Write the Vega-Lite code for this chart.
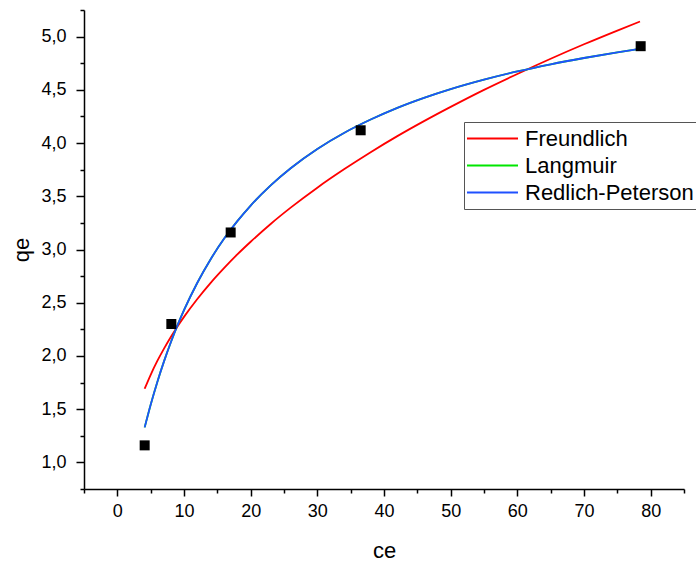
{
  "$schema": "https://vega.github.io/schema/vega-lite/v6.json",
  "width": 600,
  "height": 479,
  "autosize": {"type": "none"},
  "padding": {"left": 84, "top": 10, "right": 12, "bottom": 73},
  "background": "white",
  "config": {
    "view": {"stroke": null},
    "font": "Liberation Sans, Arial, sans-serif",
    "axis": {
      "grid": false,
      "domainColor": "black",
      "domainWidth": 1.5,
      "tickColor": "black",
      "tickWidth": 1.5,
      "labelColor": "black",
      "labelFont": "Liberation Sans, Arial, sans-serif",
      "labelFontSize": 18,
      "titleFont": "Liberation Sans, Arial, sans-serif",
      "titleFontSize": 22,
      "titleFontWeight": "normal",
      "titleColor": "black"
    }
  },
  "datasets": {
    "fits": [
      {"ce": 4.1, "qe": 1.692, "model": "Freundlich"},
      {"ce": 5, "qe": 1.823, "model": "Freundlich"},
      {"ce": 6, "qe": 1.953, "model": "Freundlich"},
      {"ce": 7, "qe": 2.069, "model": "Freundlich"},
      {"ce": 8, "qe": 2.176, "model": "Freundlich"},
      {"ce": 9, "qe": 2.275, "model": "Freundlich"},
      {"ce": 10, "qe": 2.367, "model": "Freundlich"},
      {"ce": 12, "qe": 2.535, "model": "Freundlich"},
      {"ce": 14, "qe": 2.687, "model": "Freundlich"},
      {"ce": 16, "qe": 2.825, "model": "Freundlich"},
      {"ce": 18, "qe": 2.954, "model": "Freundlich"},
      {"ce": 20, "qe": 3.073, "model": "Freundlich"},
      {"ce": 23, "qe": 3.24, "model": "Freundlich"},
      {"ce": 26, "qe": 3.393, "model": "Freundlich"},
      {"ce": 30, "qe": 3.581, "model": "Freundlich"},
      {"ce": 34, "qe": 3.753, "model": "Freundlich"},
      {"ce": 38, "qe": 3.914, "model": "Freundlich"},
      {"ce": 42, "qe": 4.065, "model": "Freundlich"},
      {"ce": 46, "qe": 4.206, "model": "Freundlich"},
      {"ce": 50, "qe": 4.34, "model": "Freundlich"},
      {"ce": 55, "qe": 4.5, "model": "Freundlich"},
      {"ce": 60, "qe": 4.649, "model": "Freundlich"},
      {"ce": 65, "qe": 4.792, "model": "Freundlich"},
      {"ce": 70, "qe": 4.928, "model": "Freundlich"},
      {"ce": 75, "qe": 5.057, "model": "Freundlich"},
      {"ce": 78.4, "qe": 5.142, "model": "Freundlich"},
      {"ce": 4.1, "qe": 1.329, "model": "Langmuir"},
      {"ce": 5, "qe": 1.542, "model": "Langmuir"},
      {"ce": 6, "qe": 1.756, "model": "Langmuir"},
      {"ce": 7, "qe": 1.949, "model": "Langmuir"},
      {"ce": 8, "qe": 2.124, "model": "Langmuir"},
      {"ce": 9, "qe": 2.284, "model": "Langmuir"},
      {"ce": 10, "qe": 2.43, "model": "Langmuir"},
      {"ce": 12, "qe": 2.688, "model": "Langmuir"},
      {"ce": 14, "qe": 2.909, "model": "Langmuir"},
      {"ce": 16, "qe": 3.1, "model": "Langmuir"},
      {"ce": 18, "qe": 3.266, "model": "Langmuir"},
      {"ce": 20, "qe": 3.413, "model": "Langmuir"},
      {"ce": 23, "qe": 3.603, "model": "Langmuir"},
      {"ce": 26, "qe": 3.764, "model": "Langmuir"},
      {"ce": 30, "qe": 3.945, "model": "Langmuir"},
      {"ce": 34, "qe": 4.095, "model": "Langmuir"},
      {"ce": 38, "qe": 4.221, "model": "Langmuir"},
      {"ce": 42, "qe": 4.331, "model": "Langmuir"},
      {"ce": 46, "qe": 4.425, "model": "Langmuir"},
      {"ce": 50, "qe": 4.507, "model": "Langmuir"},
      {"ce": 55, "qe": 4.596, "model": "Langmuir"},
      {"ce": 60, "qe": 4.673, "model": "Langmuir"},
      {"ce": 65, "qe": 4.74, "model": "Langmuir"},
      {"ce": 70, "qe": 4.799, "model": "Langmuir"},
      {"ce": 75, "qe": 4.852, "model": "Langmuir"},
      {"ce": 78.4, "qe": 4.885, "model": "Langmuir"},
      {"ce": 4.1, "qe": 1.329, "model": "Redlich-Peterson"},
      {"ce": 5, "qe": 1.542, "model": "Redlich-Peterson"},
      {"ce": 6, "qe": 1.756, "model": "Redlich-Peterson"},
      {"ce": 7, "qe": 1.949, "model": "Redlich-Peterson"},
      {"ce": 8, "qe": 2.124, "model": "Redlich-Peterson"},
      {"ce": 9, "qe": 2.284, "model": "Redlich-Peterson"},
      {"ce": 10, "qe": 2.43, "model": "Redlich-Peterson"},
      {"ce": 12, "qe": 2.688, "model": "Redlich-Peterson"},
      {"ce": 14, "qe": 2.909, "model": "Redlich-Peterson"},
      {"ce": 16, "qe": 3.1, "model": "Redlich-Peterson"},
      {"ce": 18, "qe": 3.266, "model": "Redlich-Peterson"},
      {"ce": 20, "qe": 3.413, "model": "Redlich-Peterson"},
      {"ce": 23, "qe": 3.603, "model": "Redlich-Peterson"},
      {"ce": 26, "qe": 3.764, "model": "Redlich-Peterson"},
      {"ce": 30, "qe": 3.945, "model": "Redlich-Peterson"},
      {"ce": 34, "qe": 4.095, "model": "Redlich-Peterson"},
      {"ce": 38, "qe": 4.221, "model": "Redlich-Peterson"},
      {"ce": 42, "qe": 4.331, "model": "Redlich-Peterson"},
      {"ce": 46, "qe": 4.425, "model": "Redlich-Peterson"},
      {"ce": 50, "qe": 4.507, "model": "Redlich-Peterson"},
      {"ce": 55, "qe": 4.596, "model": "Redlich-Peterson"},
      {"ce": 60, "qe": 4.673, "model": "Redlich-Peterson"},
      {"ce": 65, "qe": 4.74, "model": "Redlich-Peterson"},
      {"ce": 70, "qe": 4.799, "model": "Redlich-Peterson"},
      {"ce": 75, "qe": 4.852, "model": "Redlich-Peterson"},
      {"ce": 78.4, "qe": 4.885, "model": "Redlich-Peterson"}
    ],
    "measured": [
      {"ce": 4.1, "qe": 1.16},
      {"ce": 8.1, "qe": 2.3},
      {"ce": 17, "qe": 3.16},
      {"ce": 36.5, "qe": 4.12},
      {"ce": 78.5, "qe": 4.91}
    ]
  },
  "resolve": {"axis": {"x": "independent", "y": "independent"}},
  "layer": [
    {
      "data": {"name": "fits"},
      "mark": {"type": "line", "strokeWidth": 1.8, "interpolate": "monotone"},
      "encoding": {
        "x": {
          "field": "ce", "type": "quantitative",
          "scale": {"domain": [-5, 85], "nice": false, "zero": false},
          "axis": {
            "orient": "bottom",
            "title": "ce",
            "values": [0, 10, 20, 30, 40, 50, 60, 70, 80],
            "format": "d",
            "tickSize": 7,
            "labelPadding": 6,
            "titleY": 68,
            "titleBaseline": "alphabetic"
          }
        },
        "y": {
          "field": "qe", "type": "quantitative",
          "scale": {"domain": [0.75, 5.25], "nice": false, "zero": false},
          "axis": {
            "orient": "left",
            "title": "qe",
            "values": [1, 1.5, 2, 2.5, 3, 3.5, 4, 4.5, 5],
            "labelExpr": "replace(format(datum.value, '.1f'), '.', ',')",
            "tickSize": 8,
            "labelPadding": 10,
            "titleX": -56,
            "titleBaseline": "alphabetic"
          }
        },
        "color": {
          "field": "model", "type": "nominal",
          "scale": {
            "domain": ["Freundlich", "Langmuir", "Redlich-Peterson"],
            "range": ["#ff0000", "#00e600", "#1f50ff"]
          },
          "legend": {
            "title": null,
            "orient": "none",
            "legendX": 380,
            "legendY": 112,
            "direction": "vertical",
            "strokeColor": "#555555",
            "fillColor": "white",
            "padding": 5.5,
            "rowPadding": 5,
            "symbolType": "M-4.25,0H4.25",
            "symbolSize": 144,
            "symbolStrokeWidth": 2,
            "symbolOffset": 12,
            "labelOffset": 21.5,
            "labelFontSize": 22,
            "labelColor": "black",
            "labelFont": "Liberation Sans, Arial, sans-serif",
            "labelLimit": 400
          }
        }
      }
    },
    {
      "data": {"name": "measured"},
      "mark": {"type": "point", "shape": "square", "filled": true, "size": 100, "color": "black", "opacity": 1},
      "encoding": {
        "x": {
          "field": "ce", "type": "quantitative",
          "axis": {
            "orient": "bottom",
            "title": null,
            "labels": false,
            "domain": false,
            "values": [-5, 5, 15, 25, 35, 45, 55, 65, 75, 85],
            "tickSize": 4
          }
        },
        "y": {
          "field": "qe", "type": "quantitative",
          "axis": {
            "orient": "left",
            "title": null,
            "labels": false,
            "domain": false,
            "values": [0.75, 1.25, 1.75, 2.25, 2.75, 3.25, 3.75, 4.25, 4.75, 5.25],
            "tickSize": 4
          }
        }
      }
    }
  ]
}
